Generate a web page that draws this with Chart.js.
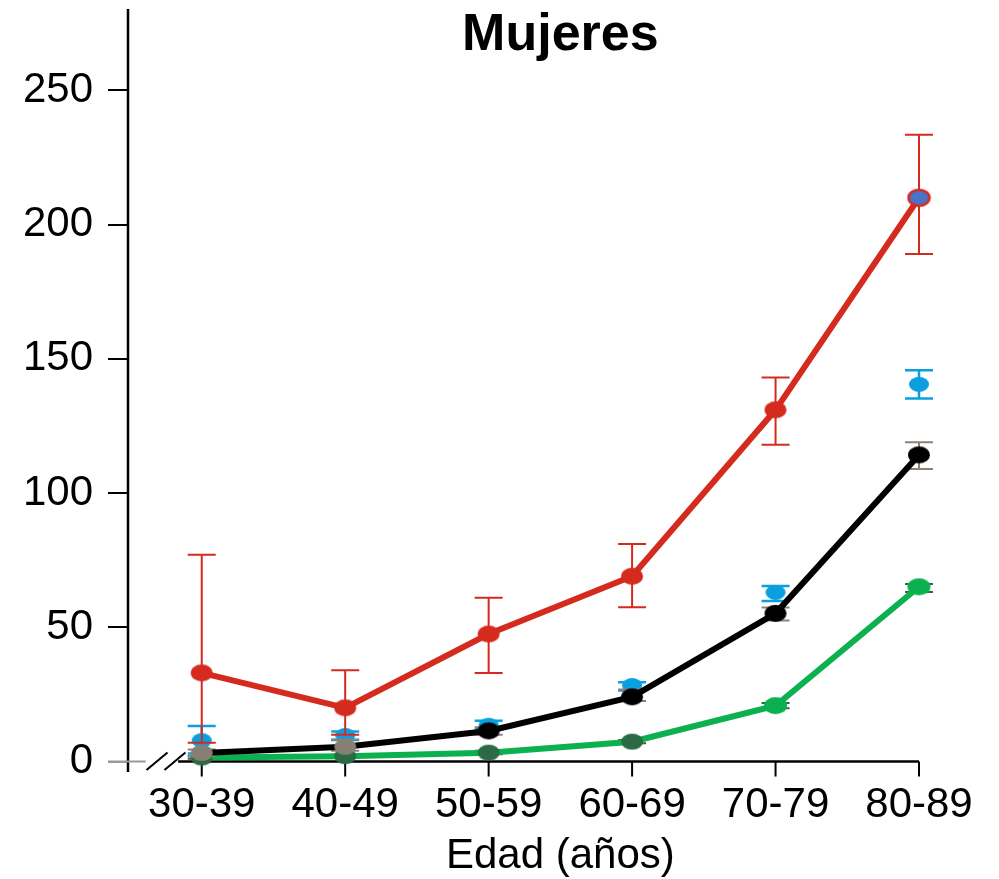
<!DOCTYPE html>
<html>
<head>
<meta charset="utf-8">
<script src="https://cdn.jsdelivr.net/npm/chart.js@4.4.1/dist/chart.umd.min.js"></script>
<style>
  html, body { margin: 0; padding: 0; background: #fff; }
  #chart { display: block; }
</style>
</head>
<body>
<canvas id="chart" width="999" height="879"></canvas>
<script>
// Age groups and y-axis ticks
const categories = ['30-39', '40-49', '50-59', '60-69', '70-79', '80-89'];
const yTickValues = [0, 50, 100, 150, 200, 250];

// Red series (with line) and its error range
const redValues = [33, 20, 47.5, 69, 131, 210];
const redHigh   = [77, 34, 61, 81, 143, 233.5];
const redLow    = [7, 10, 33, 57.5, 118, 189];

// Blue series (markers only)
const blueValues = [7.8, 9.7, 13.5, 28.3, 63, 140.5];
const blueHigh   = [13.2, 11.2, 15.2, 29.5, 65.4, 145.7];
const blueLow    = [3, 8, 12, 26.5, 59.8, 135.2];

// Black series (with line)
const blackValues = [3.2, 5.5, 11.4, 24.1, 55.2, 114.2];
const blackHigh   = [4.5, 8.2, 12.8, 26.8, 57.4, 118.9];
const blackLow    = [2, 4, 10, 22.5, 52.5, 109];

// Green series (with line)
const greenValues = [1.5, 2, 3.3, 7.4, 20.8, 65.1];
const greenHigh   = [2, 2.5, 4, 8, 21.8, 66.1];
const greenLow    = [1, 1.5, 2.7, 6.8, 19.8, 63.1];

const FONT = "'Liberation Sans', Arial, Helvetica, sans-serif";

function ellipseMarker(fill, stroke, w, h) {
  const c = document.createElement('canvas');
  c.width = w + 4; c.height = h + 4;
  const g = c.getContext('2d');
  g.beginPath();
  g.ellipse(c.width / 2, c.height / 2, w / 2, h / 2, 0, 0, Math.PI * 2);
  g.fillStyle = fill;
  g.fill();
  if (stroke) { g.lineWidth = 2.5; g.strokeStyle = stroke; g.stroke(); }
  return c;
}

const toPoints = vals => vals.map((v, i) => ({ x: i, y: v }));

const RED = '#d52b1e', BLUE = '#0aa0e0', GREEN = '#0bb04f', DKGREEN = '#2b6a45',
      GRAYPT = '#877f74', GRAYBAR = '#8c8278';

const redMarkers = redValues.map((v, i) => i === 5 ? ellipseMarker('#4a72c6', RED, 21, 16) : ellipseMarker(RED, null, 22, 17));
const blueMarkers = blueValues.map(() => ellipseMarker(BLUE, null, 20, 15));
const blackMarkers = blackValues.map((v, i) => i < 2 ? ellipseMarker(GRAYPT, null, 22, 16) : ellipseMarker('#000', null, 22, 17));
const greenMarkers = greenValues.map((v, i) => i < 4 ? ellipseMarker(DKGREEN, null, 22, 16) : ellipseMarker(GREEN, null, 23, 17));

// Error bars drawn just before each dataset so markers sit on top of them
const errorBars = {
  id: 'errorBars',
  beforeDatasetDraw(chart, args) {
    const ds = chart.data.datasets[args.index];
    if (!ds.errLow) return;
    const xs = chart.scales.x, ys = chart.scales.y, ctx = chart.ctx;
    ctx.save();
    ctx.strokeStyle = ds.errColor;
    ctx.lineWidth = ds.errWidth;
    ds.errLow.forEach((lo, i) => {
      const x = xs.getPixelForValue(i);
      const yl = ys.getPixelForValue(lo), yh = ys.getPixelForValue(ds.errHigh[i]);
      const hw = 14;
      ctx.beginPath();
      ctx.moveTo(x, yl); ctx.lineTo(x, yh);
      ctx.moveTo(x - hw, yl); ctx.lineTo(x + hw, yl);
      ctx.moveTo(x - hw, yh); ctx.lineTo(x + hw, yh);
      ctx.stroke();
    });
    ctx.restore();
  }
};

// Y axis line, broken x axis, category tick marks, titles
const axisDecor = {
  id: 'axisDecor',
  beforeDatasetsDraw(chart) {
    const xs = chart.scales.x, ys = chart.scales.y, ctx = chart.ctx;
    const y0 = ys.getPixelForValue(0);
    const left = xs.getPixelForValue(xs.min);
    ctx.save();
    // y axis line over the full value range
    ctx.strokeStyle = '#000';
    ctx.lineWidth = 2.5;
    ctx.beginPath();
    ctx.moveTo(left, ys.getPixelForValue(ys.max)); ctx.lineTo(left, ys.getPixelForValue(ys.min));
    ctx.stroke();
    // gray stub left of the break
    ctx.strokeStyle = '#9a9a9a';
    ctx.lineWidth = 2;
    ctx.beginPath();
    ctx.moveTo(left - 20, y0); ctx.lineTo(xs.getPixelForValue(-0.39), y0);
    ctx.stroke();
    // main axis line after the break
    ctx.strokeStyle = '#000';
    ctx.lineWidth = 2.5;
    ctx.beginPath();
    ctx.moveTo(xs.getPixelForValue(-0.165), y0); ctx.lineTo(xs.getPixelForValue(5), y0);
    ctx.stroke();
    // break marks
    ctx.lineWidth = 2;
    [-0.385, -0.26].forEach(v => {
      const bx = xs.getPixelForValue(v);
      ctx.beginPath();
      ctx.moveTo(bx, y0 + 8.5); ctx.lineTo(bx + 21, y0 - 9);
      ctx.stroke();
    });
    // category tick marks
    ctx.lineWidth = 2;
    categories.forEach((c, i) => {
      const x = xs.getPixelForValue(i);
      ctx.beginPath();
      ctx.moveTo(x, y0); ctx.lineTo(x, y0 + 15);
      ctx.stroke();
    });
    ctx.restore();
  },
  afterDraw(chart) {
    const xs = chart.scales.x, ys = chart.scales.y, ctx = chart.ctx;
    const cx = xs.getPixelForValue(2.5);
    const left = xs.getPixelForValue(xs.min);
    ctx.save();
    // keep the band under the axes, left of the first label, clear
    ctx.fillStyle = '#fff';
    ctx.fillRect(left - 28, ys.getPixelForValue(ys.min) + 1.5, 46, 70);
    ctx.fillStyle = '#000';
    ctx.textAlign = 'center';
    ctx.textBaseline = 'alphabetic';
    ctx.font = 'bold 52px ' + FONT;
    ctx.fillText('Mujeres', cx, 50);
    ctx.font = '42px ' + FONT;
    ctx.fillText('Edad (años)', cx, 868);
    ctx.restore();
  }
};

new Chart(document.getElementById('chart'), {
  type: 'line',
  data: {
    datasets: [
      {
        label: 'rojo', data: toPoints(redValues), clip: false,
        borderColor: RED, borderWidth: 6, showLine: true,
        pointStyle: redMarkers, pointRadius: 10,
        errLow: redLow, errHigh: redHigh, errColor: RED, errWidth: 2
      },
      {
        label: 'negro', data: toPoints(blackValues), clip: false,
        borderColor: '#000', borderWidth: 6, showLine: true,
        pointStyle: blackMarkers, pointRadius: 10,
        errLow: blackLow, errHigh: blackHigh, errColor: GRAYBAR, errWidth: 2
      },
      {
        label: 'azul', data: toPoints(blueValues), clip: false,
        borderColor: BLUE, showLine: false,
        pointStyle: blueMarkers, pointRadius: 10,
        errLow: blueLow, errHigh: blueHigh, errColor: BLUE, errWidth: 2.5
      },
      {
        label: 'verde', data: toPoints(greenValues), clip: false,
        borderColor: GREEN, borderWidth: 6, showLine: true,
        pointStyle: greenMarkers, pointRadius: 10,
        errLow: greenLow, errHigh: greenHigh, errColor: DKGREEN, errWidth: 2
      }
    ]
  },
  options: {
    responsive: false,
    animation: false,
    events: [],
    layout: { autoPadding: false, padding: { top: 9, right: 80, bottom: 0, left: 0 } },
    plugins: { legend: { display: false }, tooltip: { enabled: false }, title: { display: false } },
    scales: {
      x: {
        type: 'linear',
        min: -0.514, max: 5,
        afterBuildTicks: s => { s.ticks = categories.map((c, i) => ({ value: i })); },
        afterFit: s => { s.height = 107; s.paddingLeft = 0; s.paddingRight = 0; },
        grid: { display: false },
        border: { display: false },
        ticks: {
          autoSkip: false, maxRotation: 0,
          padding: 0,
          color: '#000',
          font: { family: FONT, size: 42 },
          callback: v => categories[Math.round(v)]
        }
      },
      y: {
        type: 'linear',
        min: -3.9, max: 280.3,
        afterBuildTicks: s => { s.ticks = yTickValues.map(v => ({ value: v })); },
        afterFit: s => { s.width = 128; s.paddingTop = 0; s.paddingBottom = 0; },
        grid: {
          drawOnChartArea: false, drawTicks: true, tickLength: 20,
          lineWidth: 2,
          color: c => (c.tick && c.tick.value === 0) ? '#9a9a9a' : '#000'
        },
        border: { display: false },
        ticks: {
          padding: 15,
          color: '#000',
          font: { family: FONT, size: 42 }
        }
      }
    }
  },
  plugins: [errorBars, axisDecor]
});
</script>
</body>
</html>
